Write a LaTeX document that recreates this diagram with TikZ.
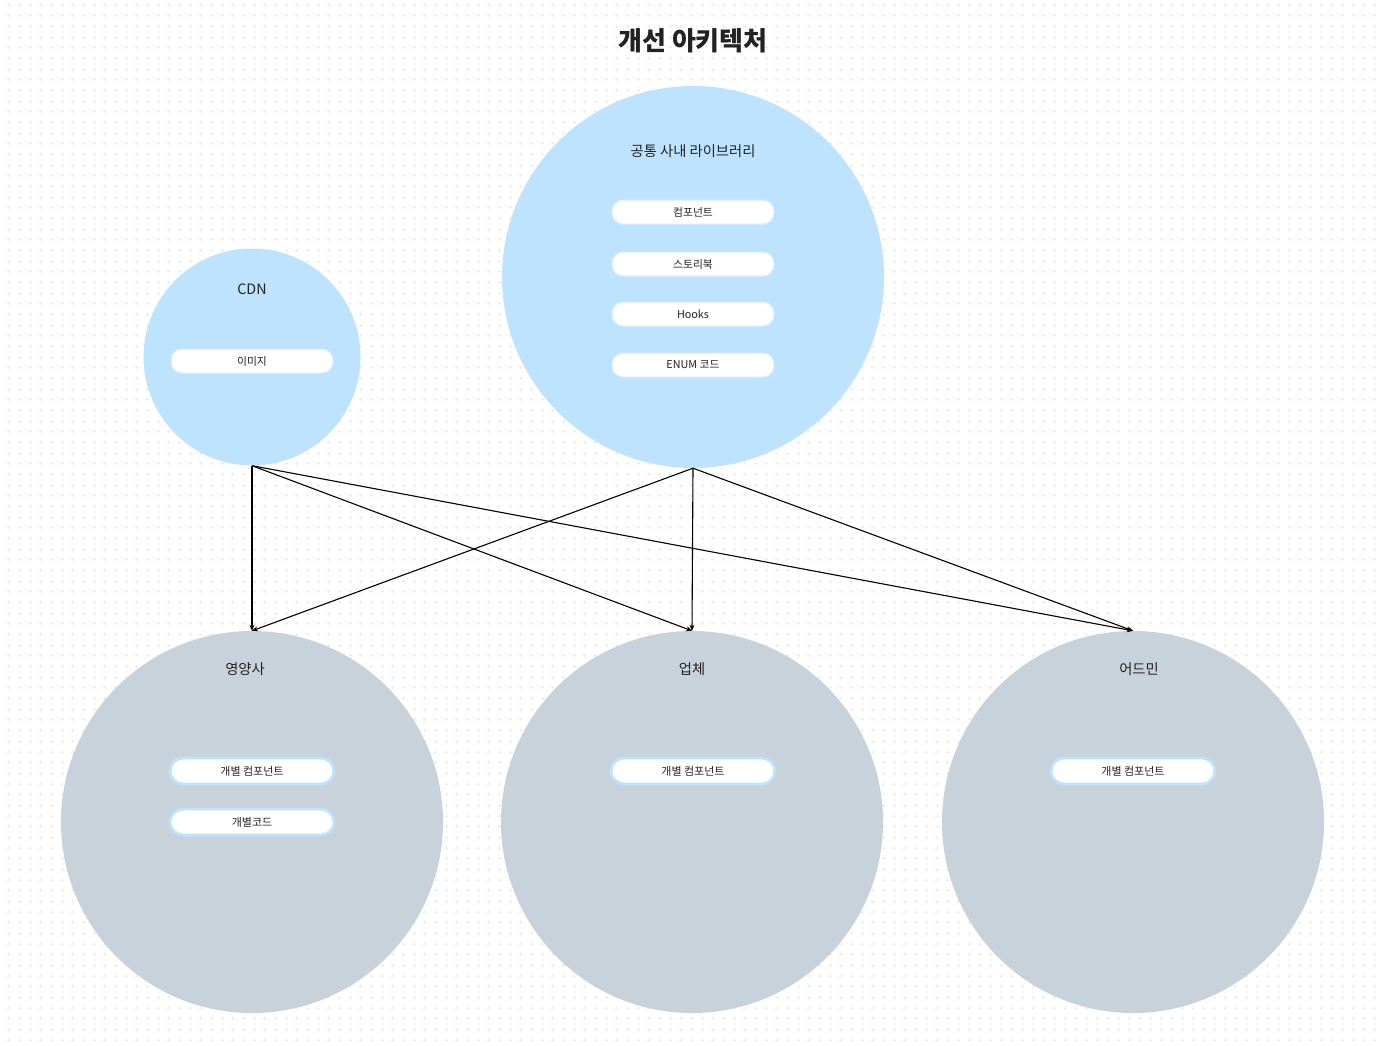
\documentclass[tikz,border=0pt]{standalone}
\usepackage{fontspec}
\setmainfont{Noto Sans CJK KR}
\usetikzlibrary{arrows.meta}
\definecolor{lblue}{HTML}{BEE3FE}
\definecolor{gblue}{HTML}{C7D2DB}
\definecolor{pillline}{HTML}{D8EDFE}
\definecolor{txt}{HTML}{222222}
\definecolor{dotc}{HTML}{EBEBEB}
\tikzset{
  bubble/.style={circle,inner sep=0pt,draw=none},
  libbub/.style={bubble,fill=lblue},
  appbub/.style={bubble,fill=gblue},
  toppill/.style={rectangle,rounded corners=11pt,fill=white,draw=pillline,line width=1pt,minimum width=162pt,minimum height=24pt,inner sep=0pt,font=\fontsize{10.8}{12}\selectfont,text=txt},
  botpill/.style={rectangle,rounded corners=13pt,fill=white,draw=lblue,line width=2.8pt,minimum width=164pt,minimum height=26pt,inner sep=0pt,font=\fontsize{11}{12}\selectfont,text=txt},
  lbl/.style={font=\fontsize{14.3}{16}\selectfont,text=txt,inner sep=0pt},
  conn/.style={draw=black,line width=1.1pt,-{Stealth[length=6pt,width=5pt]}}
}
\begin{document}
\begin{tikzpicture}[x=1pt,y=-1pt]
\useasboundingbox (0,0) rectangle (1379,1046);
\fill[white] (0,0) rectangle (1379,1046);
% dot grid
\begin{scope}
\clip (0,0) rectangle (1379,1046);
\foreach \i in {0,...,98} {
  \draw[dotc,line width=0.8pt,dash pattern=on 3pt off 7.67pt] (7.2,5+10.67*\i) -- (1379,5+10.67*\i);
}
\foreach \j in {0,...,129} {
  \draw[dotc,line width=0.8pt,dash pattern=on 3pt off 7.67pt] (8.7+10.67*\j,3.5) -- (8.7+10.67*\j,1046);
}
\end{scope}
% title
\node[font=\bfseries\fontsize{26}{30}\selectfont,text=txt] (title) at (693,41) {개선 아키텍처};
% bubbles
\node[libbub,minimum size=217pt] (cdn) at (252,357) {};
\node[libbub,minimum size=382pt] (lib) at (693,277) {};
\node[appbub,minimum size=382pt] (nut) at (252,822) {};
\node[appbub,minimum size=382pt] (ven) at (692,822) {};
\node[appbub,minimum size=382pt] (adm) at (1133,822) {};
% labels
\node[lbl] (libt) at (693,151) {공통 사내 라이브러리};
\node[lbl] (cdnt) at (252,289) {CDN};
\node[lbl] (nutt) at (245,669) {영양사};
\node[lbl] (vent) at (692,669) {업체};
\node[lbl] (admt) at (1139,669) {어드민};
% pills
\node[toppill] (p1) at (693,212) {컴포넌트};
\node[toppill] (p2) at (693,264) {스토리북};
\node[toppill] (p3) at (693,314) {Hooks};
\node[toppill] (p4) at (693,365) {ENUM 코드};
\node[toppill] (pc) at (252,361) {이미지};
\node[botpill] (n1) at (252,771) {개별 컴포넌트};
\node[botpill] (n2) at (252,822) {개별코드};
\node[botpill] (v1) at (693,771) {개별 컴포넌트};
\node[botpill] (a1) at (1133,771) {개별 컴포넌트};
% connectors
\draw[conn] (cdn.south) -- (nut.north);
\draw[conn] (cdn.south) -- (ven.north);
\draw[conn] (cdn.south) -- (adm.north);
\draw[conn] (lib.south) -- (nut.north);
\draw[conn] (lib.south) -- (ven.north);
\draw[conn] (lib.south) -- (adm.north);
\end{tikzpicture}
\end{document}
